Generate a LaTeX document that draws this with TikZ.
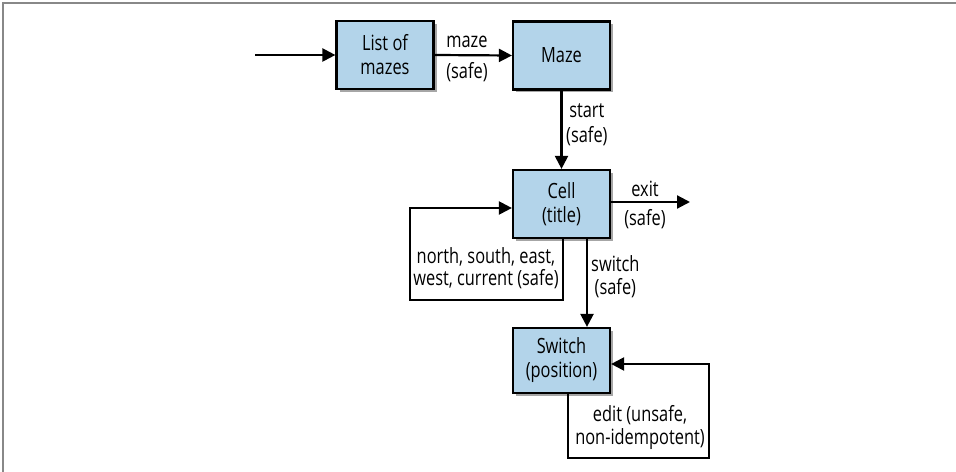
\documentclass[tikz,border=0pt]{standalone}
\usepackage{fontspec}
\setmainfont[FakeStretch=0.78]{Open Sans}
\usetikzlibrary{arrows.meta,shadows}
\definecolor{boxblue}{RGB}{179,212,234}
\definecolor{framegray}{RGB}{136,136,136}
\tikzset{
  res/.style={draw=black, line width=2.2bp, fill=boxblue, minimum width=97bp, minimum height=68bp,
    align=center, inner sep=0pt, font=\fontsize{21bp}{24bp}\selectfont,
    drop shadow={shadow xshift=3bp, shadow yshift=-3bp, fill=black, opacity=0.35}},
  link/.style={line width=2.2bp, -{Triangle[length=13bp,width=13bp]}},
  lbl/.style={align=center, inner sep=0pt, font=\fontsize{21bp}{23bp}\selectfont}
}
\begin{document}
\begin{tikzpicture}[x=1bp,y=-1bp]
\useasboundingbox (0,0) rectangle (956,472);
\draw[framegray, line width=2bp] (3,472) -- (3,3.5) -- (956,3.5);
\node[res] (list) at (385,55) {List of\\mazes};
\node[res] (maze) at (561.5,55.5) {Maze};
\node[res] (cell) at (561.5,204) {Cell\\(title)};
\node[res, minimum height=65bp] (switch) at (561.5,360.5) {Switch\\(position)};
\coordinate (in) at (255,55);
\coordinate (exit) at (690,202);
\coordinate (l1) at (410,300);
\coordinate (l2) at (709,458);
\draw[link] (in) -- (list.west);
\draw[link] (list.east) -- (maze.west);
\node[lbl] (lmaze) at (467,42) {maze};
\node[lbl] (lmazesafe) at (467,72) {(safe)};
\draw[link] (maze.south) -- (cell.north);
\node[lbl, anchor=west, font=\fontsize{21bp}{25bp}\selectfont] (lstart) at (566,125) {start\\(safe)};
\draw[link] (cell.east |- exit) -- (exit);
\node[lbl] (lexit) at (645,189) {exit};
\node[lbl] (lexitsafe) at (645,219) {(safe)};
\draw[link] ([xshift=1.5bp]cell.south) |- (l1) |- ([yshift=-4bp]cell.west);
\node[lbl, font=\fontsize{21bp}{21.5bp}\selectfont] (lnav) at (486,268) {north, south, east,\\west, current (safe)};
\draw[link] ([xshift=25.5bp]cell.south) -- ([xshift=25.5bp]switch.north);
\node[lbl, anchor=west] (lswitch) at (591,277) {switch\\(safe)};
\draw[link] ([xshift=6.5bp]switch.south) |- (l2) |- ([yshift=-3.5bp]switch.east);
\node[lbl] (ledit) at (640,427) {edit (unsafe,\\non-idempotent)};
\end{tikzpicture}
\end{document}
